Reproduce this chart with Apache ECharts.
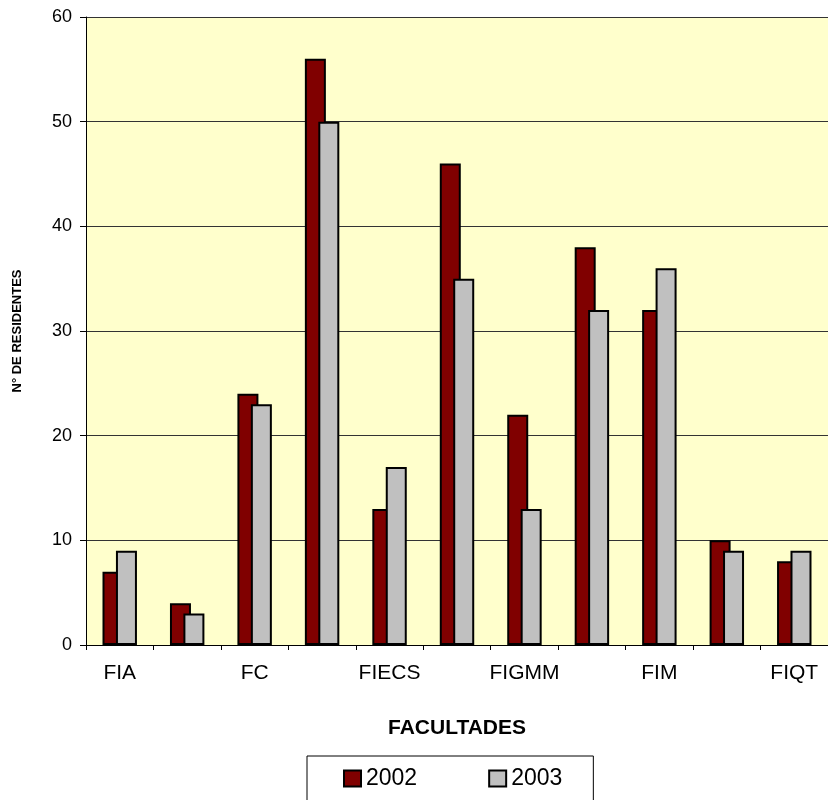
<!DOCTYPE html>
<html>
<head>
<meta charset="utf-8">
<script src="https://cdn.jsdelivr.net/npm/echarts@6/dist/echarts.min.js"></script>
<style>
html,body{margin:0;padding:0;background:#fff;}
#chart{width:828px;height:800px;}
</style>
</head>
<body>
<div id="chart"></div>
<script>
var categories = ['FIA','FAUA','FC','FIC','FIECS','FIEE','FIGMM','FIIS','FIM','FIP','FIQT'];
var seriesNames = ['2002','2003'];
var values2002 = [7,4,24,56,13,46,22,38,32,10,8];
var values2003 = [9,3,23,50,17,35,13,32,36,9,9];
var yTicks = {min:0, max:60, interval:10};
var xAxisTitle = 'FACULTADES';
var yAxisTitle = 'N° DE RESIDENTES';

var FONT = "'Liberation Sans', Arial, sans-serif";
var chart = echarts.init(document.getElementById('chart'), null, {renderer:'canvas'});
chart.setOption({
  animation:false,
  backgroundColor:'#ffffff',
  textStyle:{fontFamily:FONT},
  grid:{left:86, right:-7, top:17, bottom:155, show:true, backgroundColor:'#FFFFCC', borderWidth:0},
  legend:{
    data:seriesNames,
    left:307, top:756,
    orient:'horizontal',
    padding:[11,31,14,36],
    itemGap:71,
    itemWidth:17, itemHeight:16,
    icon:'rect',
    borderColor:'#000', borderWidth:1,
    textStyle:{fontSize:23, color:'#000', fontFamily:FONT},
    itemStyle:{borderColor:'#000', borderWidth:2}
  },
  xAxis:{
    type:'category',
    data:categories,
    boundaryGap:true,
    name:xAxisTitle,
    nameLocation:'middle',
    nameGap:73,
    nameTextStyle:{fontSize:21, fontWeight:'bold', color:'#000', fontFamily:FONT},
    axisLine:{lineStyle:{color:'#000', width:1}},
    axisTick:{show:true, interval:0, length:5, lineStyle:{color:'#000'}},
    axisLabel:{interval:1, fontSize:21, color:'#000', margin:18, fontFamily:FONT},
    splitLine:{show:false}
  },
  yAxis:{
    type:'value',
    min:yTicks.min, max:yTicks.max, interval:yTicks.interval,
    name:yAxisTitle,
    nameLocation:'middle',
    nameGap:62,
    nameTextStyle:{fontSize:13, fontWeight:'bold', color:'#000', fontFamily:FONT},
    axisLine:{show:true, lineStyle:{color:'#000', width:1}},
    axisTick:{show:true, length:6, lineStyle:{color:'#000'}},
    axisLabel:{fontSize:18, color:'#000', margin:14, fontFamily:FONT},
    splitLine:{show:true, lineStyle:{color:'#333', width:1}}
  },
  series:[
    {name:seriesNames[0], type:'bar', data:values2002, barWidth:21, barGap:'-36%',
     itemStyle:{color:'#800000', borderColor:'#000', borderWidth:2}},
    {name:seriesNames[1], type:'bar', data:values2003, barWidth:21, barGap:'-36%',
     itemStyle:{color:'#C0C0C0', borderColor:'#000', borderWidth:2}}
  ]
});
</script>
</body>
</html>
